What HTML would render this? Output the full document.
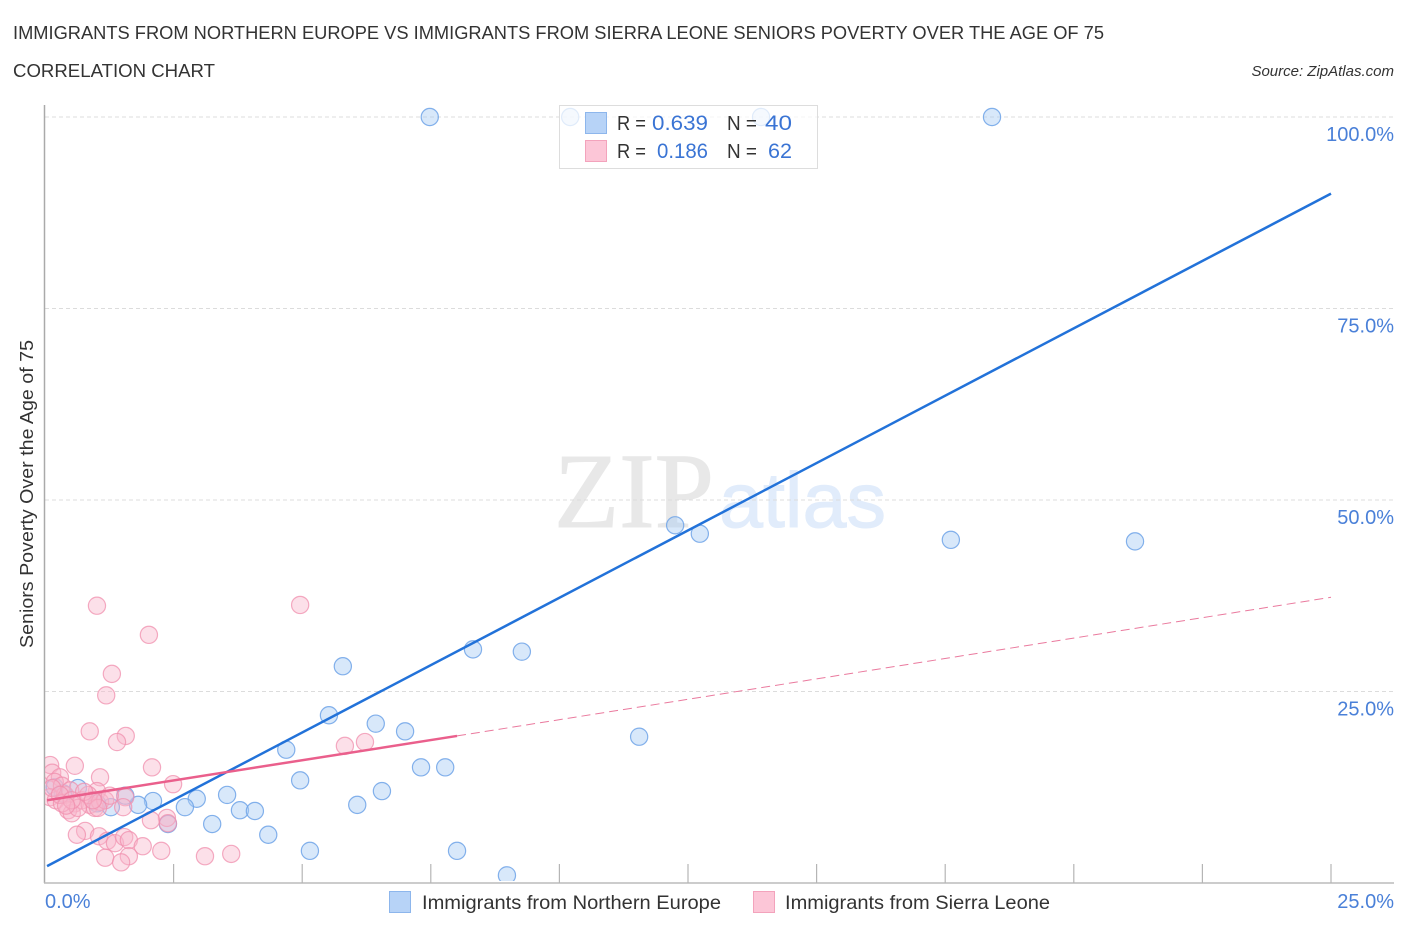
<!DOCTYPE html>
<html>
<head>
<meta charset="utf-8">
<style>
html,body{margin:0;padding:0;background:#fff;width:1406px;height:930px;overflow:hidden}
svg{display:block}
text{font-family:"Liberation Sans",sans-serif}
</style>
</head>
<body>
<svg id="chart" width="1406" height="930" viewBox="0 0 1406 930" xmlns="http://www.w3.org/2000/svg">
  <defs>
    <clipPath id="plot-clip"><rect x="45" y="100" width="1350" height="781"/></clipPath>
  </defs>
  <text x="13" y="39" font-size="18.5" fill="#333" textLength="1091" lengthAdjust="spacingAndGlyphs">IMMIGRANTS FROM NORTHERN EUROPE VS IMMIGRANTS FROM SIERRA LEONE SENIORS POVERTY OVER THE AGE OF 75</text>
  <text x="13" y="77" font-size="18.5" fill="#333" textLength="202" lengthAdjust="spacingAndGlyphs">CORRELATION CHART</text>
  <text x="1394" y="76" font-size="15" font-style="italic" fill="#333" text-anchor="end">Source: ZipAtlas.com</text>

  <g>
    <text x="554" y="527" font-size="107" fill="#e8e8e8" stroke="#e8e8e8" stroke-width="1" style="font-family:'Liberation Serif',serif" textLength="160" lengthAdjust="spacingAndGlyphs">ZIP</text>
    <text x="719" y="527" font-size="78" fill="#e1ecfb" stroke="#e1ecfb" stroke-width="1" style="font-family:'Liberation Sans',sans-serif" textLength="167" lengthAdjust="spacingAndGlyphs">atlas</text>
  </g>

  <g id="grid"></g>
  <g id="axes"></g>
  <g id="series-blue" clip-path="url(#plot-clip)"></g>
  <g id="series-pink" clip-path="url(#plot-clip)"></g>
  <g id="trends"></g>

  <text transform="translate(33,494) rotate(-90)" font-size="18" fill="#333" text-anchor="middle" textLength="308" lengthAdjust="spacingAndGlyphs">Seniors Poverty Over the Age of 75</text>

  <g>
    <rect x="559.5" y="105.5" width="258" height="63" fill="#fff" fill-opacity="0.75" stroke="#ddd" stroke-width="1"/>
    <rect x="585.5" y="112.5" width="21" height="21" fill="#b7d3f7" stroke="#8db6ec" stroke-width="1"/>
    <rect x="585.5" y="140.5" width="21" height="21" fill="#fcc6d7" stroke="#f3a3bc" stroke-width="1"/>
    <text x="617" y="130" font-size="20" fill="#333" textLength="29" lengthAdjust="spacingAndGlyphs">R =</text>
    <text x="652" y="130" font-size="21" fill="#3a74d4" textLength="56" lengthAdjust="spacingAndGlyphs">0.639</text>
    <text x="727" y="130" font-size="20" fill="#333" textLength="30" lengthAdjust="spacingAndGlyphs">N =</text>
    <text x="765" y="130" font-size="21" fill="#3a74d4" textLength="27" lengthAdjust="spacingAndGlyphs">40</text>
    <text x="617" y="158" font-size="20" fill="#333" textLength="29" lengthAdjust="spacingAndGlyphs">R =</text>
    <text x="657" y="158" font-size="21" fill="#3a74d4" textLength="51" lengthAdjust="spacingAndGlyphs">0.186</text>
    <text x="727" y="158" font-size="20" fill="#333" textLength="30" lengthAdjust="spacingAndGlyphs">N =</text>
    <text x="768" y="158" font-size="21" fill="#3a74d4" textLength="24" lengthAdjust="spacingAndGlyphs">62</text>
  </g>

  <g>
    <rect x="389.5" y="891.5" width="21" height="21" fill="#b7d3f7" stroke="#8db6ec" stroke-width="1"/>
    <text x="422" y="909" font-size="19.5" fill="#333" textLength="299" lengthAdjust="spacingAndGlyphs">Immigrants from Northern Europe</text>
    <rect x="753.5" y="891.5" width="21" height="21" fill="#fcc6d7" stroke="#f3a3bc" stroke-width="1"/>
    <text x="785" y="909" font-size="19.5" fill="#333" textLength="265" lengthAdjust="spacingAndGlyphs">Immigrants from Sierra Leone</text>
  </g>
</svg>
<script>
const xTicks = [0, 2.5, 5, 7.5, 10, 12.5, 15, 17.5, 20, 22.5, 25];
const yTicks = [25, 50, 75, 100];
const yTickLabels = ['25.0%', '50.0%', '75.0%', '100.0%'];
const xEndLabels = ['0.0%', '25.0%'];

const blueX = [7.48,10.21,13.92,18.41,12.25,12.73,17.61,21.19,8.32,9.27,5.79,5.52,6.43,7.0,11.55,4.69,7.31,7.78,4.96,6.55,6.07,2.95,3.54,3.79,4.08,2.72,2.10,1.81,1.56,1.28,3.25,2.39,4.34,5.15,8.01,8.98,0.64,0.19,0.35,1.01];
const blueY = [100,100,100,100,46.7,45.6,44.8,44.6,30.5,30.2,28.3,21.9,20.8,19.8,19.1,17.4,15.1,15.1,13.4,12.0,10.2,11.0,11.5,9.5,9.4,9.9,10.7,10.2,11.4,9.9,7.7,7.7,6.3,4.2,4.2,1.0,12.4,12.5,11.7,10.4];

const pinkX = [1.01,4.96,2.02,1.30,1.19,0.87,1.57,1.40,5.83,6.22,2.08,0.58,0.10,1.07,2.49,0.14,0.29,1.01,1.56,1.52,2.37,2.06,2.39,0.78,0.62,1.05,1.21,1.36,1.54,1.63,1.9,2.26,1.63,1.17,1.48,3.11,3.62,0.19,0.33,0.10,0.21,0.39,0.49,0.58,0.72,0.45,0.52,0.87,0.97,0.84,1.07,1.17,1.26,0.33,0.64,1.03,0.76,0.14,0.93,0.29,0.52,0.41];
const pinkY = [36.2,36.3,32.4,27.3,24.5,19.8,19.2,18.4,17.9,18.4,15.1,15.3,15.4,13.8,12.9,14.4,13.8,12.0,11.2,9.9,8.5,8.2,7.8,6.8,6.3,6.1,5.5,5.2,6.0,5.6,4.8,4.2,3.5,3.3,2.7,3.5,3.8,13.2,12.7,11.2,10.8,11.5,12.1,10.4,10.8,9.5,9.1,10.2,9.8,11.5,10.6,10.8,11.4,10.4,9.8,9.8,11.9,12.4,10.8,11.5,10.8,10.1];

const blueTrendX = [0.04, 25];
const blueTrendY = [2.2, 90];
const pinkSolidX = [0.04, 8.01];
const pinkSolidY = [10.8, 19.2];
const pinkDashX = [8.01, 25];
const pinkDashY = [19.2, 37.3];

const SVGNS = 'http://www.w3.org/2000/svg';
function sx(v){ return 45 + v * 51.44; }
function sy(v){ return 883 - v * 7.66; }
function mk(tag, parent, attrs){
  const el = document.createElementNS(SVGNS, tag);
  for (const k in attrs) el.setAttribute(k, attrs[k]);
  parent.appendChild(el);
  return el;
}

const gridG = document.getElementById('grid');
const axesG = document.getElementById('axes');

yTicks.forEach(function(t, i){
  const g = mk('line', gridG, {x1:45, x2:1394, y1:sy(t), y2:sy(t), stroke:'#dcdcdc', 'stroke-width':1, 'stroke-dasharray':'4 3'});
  
  
  const l = mk('text', axesG, {x:1394, y:sy(t)+24, 'font-size':20, fill:'#4a80d8', 'text-anchor':'end'});
  
  
  l.textContent = yTickLabels[i];
});

const yAxis = mk('line', axesG, {x1:44.5, x2:44.5, y1:105, y2:883, stroke:'#aaa', 'stroke-width':1.5});


const xAxis = mk('line', axesG, {x1:44, x2:1394, y1:883, y2:883, stroke:'#bbb', 'stroke-width':1.5});



xTicks.slice(1).forEach(function(t){
  const k = mk('line', axesG, {x1:sx(t), x2:sx(t), y1:864, y2:883, stroke:'#b5b5b5', 'stroke-width':1.2});
  
  
});

const x0 = mk('text', axesG, {x:45, y:908, 'font-size':20, fill:'#4a80d8'});


x0.textContent = xEndLabels[0];
const x1 = mk('text', axesG, {x:1394, y:908, 'font-size':20, fill:'#4a80d8', 'text-anchor':'end'});


x1.textContent = xEndLabels[1];

const blueG = document.getElementById('series-blue');
blueX.forEach(function(v, i){
  const c = mk('circle', blueG, {cx:sx(v), cy:sy(blueY[i]), r:8.6, fill:'#a9cbf5', 'fill-opacity':0.45, stroke:'#6ea3e8', 'stroke-opacity':0.85, 'stroke-width':1.2});
  
  
});
const pinkG = document.getElementById('series-pink');
pinkX.forEach(function(v, i){
  const c = mk('circle', pinkG, {cx:sx(v), cy:sy(pinkY[i]), r:8.6, fill:'#f9b4ca', 'fill-opacity':0.42, stroke:'#f08fae', 'stroke-opacity':0.75, 'stroke-width':1.2});
  
  
});

const trendG = document.getElementById('trends');
const tb = mk('line', trendG, {x1:sx(blueTrendX[0]), y1:sy(blueTrendY[0]), x2:sx(blueTrendX[1]), y2:sy(blueTrendY[1]), stroke:'#2272d9', 'stroke-width':2.5});


const tp = mk('line', trendG, {x1:sx(pinkSolidX[0]), y1:sy(pinkSolidY[0]), x2:sx(pinkSolidX[1]), y2:sy(pinkSolidY[1]), stroke:'#ea5f8c', 'stroke-width':2.5});


const td = mk('line', trendG, {x1:sx(pinkDashX[0]), y1:sy(pinkDashY[0]), x2:sx(pinkDashX[1]), y2:sy(pinkDashY[1]), stroke:'#ea7a9e', 'stroke-width':1, 'stroke-dasharray':'9 5'});


</script>
</body>
</html>
